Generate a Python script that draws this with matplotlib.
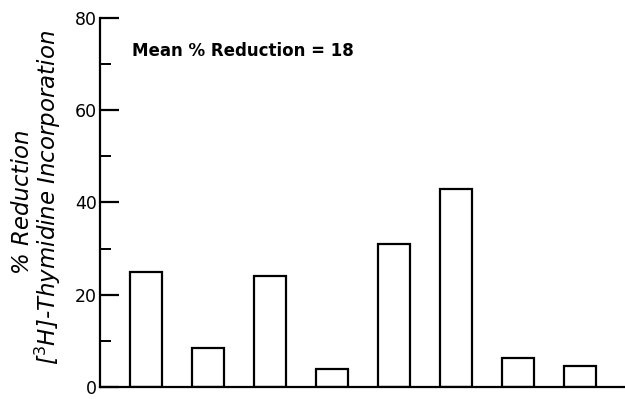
import matplotlib
matplotlib.use("Agg")
import matplotlib.pyplot as plt
from matplotlib.ticker import MultipleLocator

values = [25, 8.5, 24, 3.8, 31, 43, 6.4, 4.5]
yticks = [0, 20, 40, 60, 80]
annotation = "Mean % Reduction = 18"
ylabel_lines = ["% Reduction", "[$^3$H]-Thymidine Incorporation"]

fig = plt.figure(figsize=(6.25, 3.99), dpi=100)
ax = fig.add_axes([0.16, 0.03, 0.84, 0.925])

x = list(range(len(values)))
ax.bar(x, values, width=0.52, facecolor="white", edgecolor="black", linewidth=1.6)

ax.set_xlim(-0.74, 7.73)
ax.set_ylim(0, 80)
ax.set_yticks(yticks)
ax.yaxis.set_minor_locator(MultipleLocator(10))
ax.set_xticks([])
ax.spines["top"].set_visible(False)
ax.spines["right"].set_visible(False)
ax.spines["left"].set_linewidth(1.6)
ax.spines["bottom"].set_linewidth(1.6)
ax.tick_params(axis="y", which="major", direction="in", length=14, width=1.6,
               labelsize=12.5, pad=2)
ax.tick_params(axis="y", which="minor", direction="in", length=8, width=1.4)

ax.text(0.06, 0.91, annotation, transform=ax.transAxes, fontsize=12,
        fontweight="bold", ha="left", va="center")

fig.text(0.036, 0.495, ylabel_lines[0], rotation=90, ha="center", va="center",
         fontsize=16.5, style="italic")
fig.text(0.076, 0.505, ylabel_lines[1], rotation=90, ha="center", va="center",
         fontsize=16.5, style="italic")

fig.savefig("out.png", dpi=100)
